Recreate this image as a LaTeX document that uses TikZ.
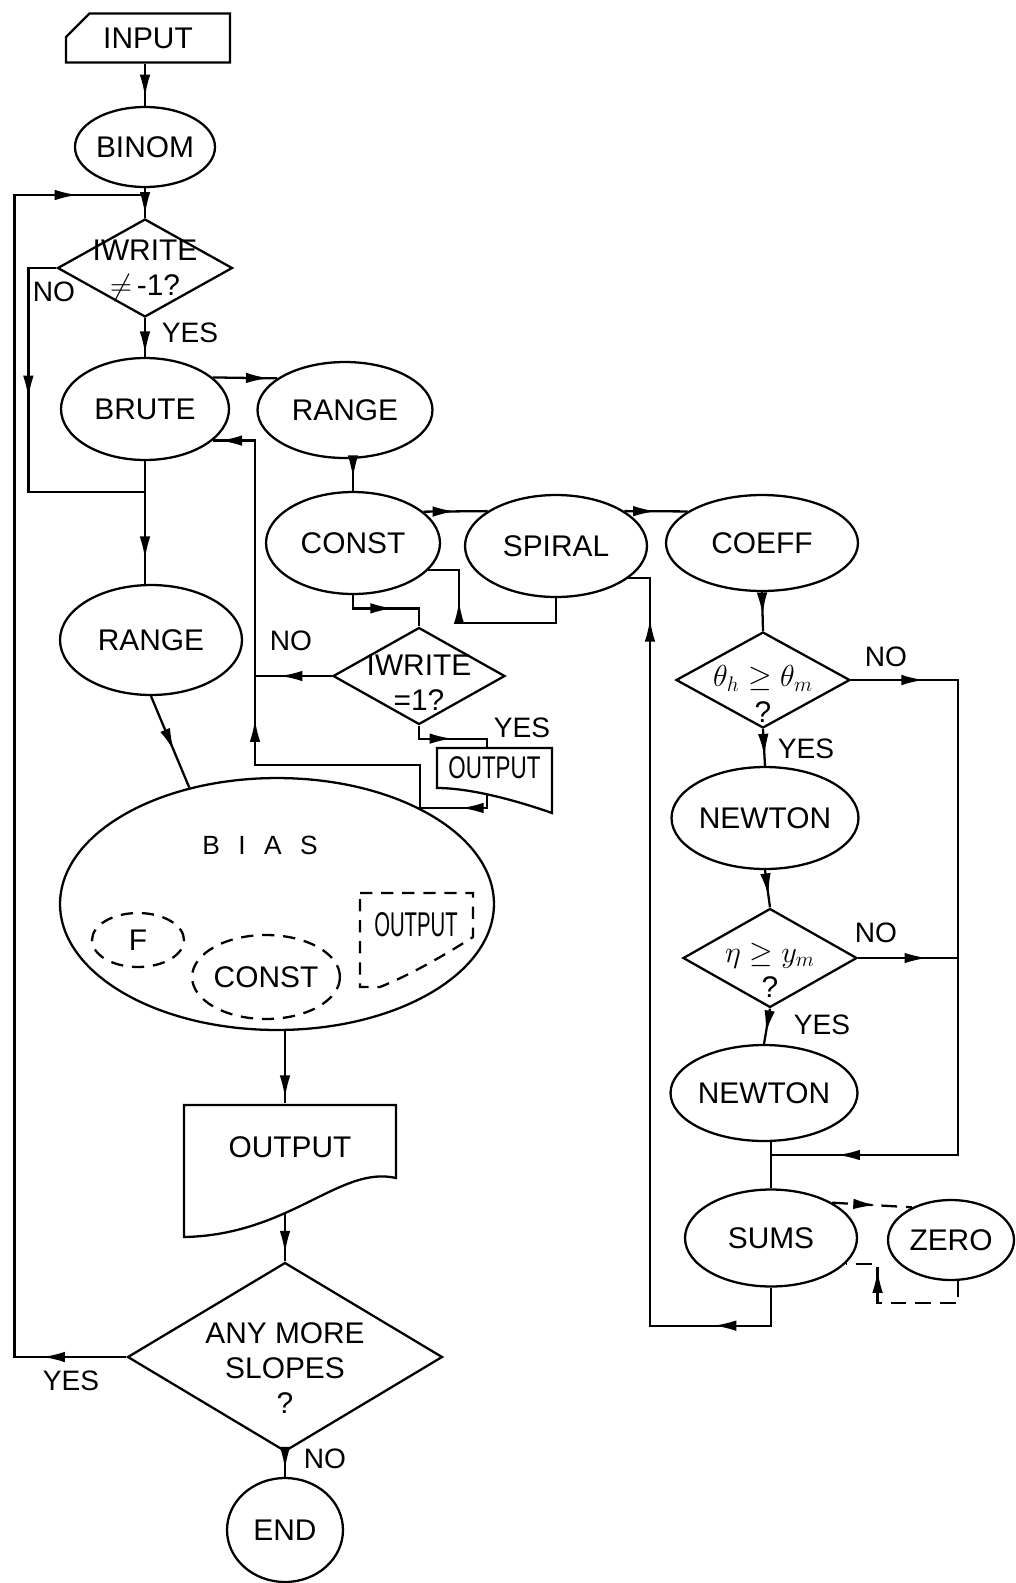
\documentclass[tikz,border=0pt]{standalone}
\usepackage{fontspec}
\setmainfont{Liberation Sans}
\usepackage{graphicx}
\usetikzlibrary{arrows.meta,calc,shapes.geometric,shapes.misc,decorations.markings}

\tikzset{
  arr/.style={postaction={decorate,decoration={markings,mark=at position #1 with {\arrow{Latex[length=13pt,width=6pt]}}}}},
  proc/.style={draw,ellipse,inner sep=0pt},
  ask/.style={draw,diamond,inner sep=0pt},
  sub/.style={draw,ellipse,inner sep=0pt,dash pattern=on 7pt off 5pt},
  callpath/.style={dash pattern=on 9pt off 5pt},
  docbox/.style={rectangle,inner sep=0pt},
  lbl/.style={font=\fontsize{17}{20}\selectfont},
  tag/.style={font=\fontsize{16}{19}\selectfont}
}

\begin{document}
\begin{tikzpicture}[x=0.02cm, y=-0.02cm, line width=1.3pt]
    \useasboundingbox (0,0) rectangle (1015,1583);
    % left column
    \node[draw, chamfered rectangle, chamfered rectangle corners=north west, chamfered rectangle xsep=0.28cm, chamfered rectangle ysep=0.26cm, minimum width=3.28cm, minimum height=0.98cm, inner sep=0pt, lbl] (input) at (148,38) {INPUT};
    \node[proc, lbl, minimum width=2.8cm, minimum height=1.6cm] (binom) at (145,147) {BINOM};
    \node[ask, minimum width=3.5cm, minimum height=1.96cm] (dw1) at (145,268) {};
    \node[lbl, align=center] (dw1t) at (145,271) {IWRITE\\$\neq$\,-1?};
    \node[proc, lbl, minimum width=3.36cm, minimum height=2.04cm] (brute) at (145,409) {BRUTE};
    \node[proc, lbl, minimum width=3.64cm, minimum height=2.2cm] (rangeB) at (151,640) {RANGE};
    \node[proc, minimum width=8.68cm, minimum height=5.04cm] (bias) at (277,904) {};
    \node[font=\fontsize{15}{18}\selectfont] (biast) at (260,845) {B\hspace{0.7em}I\hspace{0.7em}A\hspace{0.7em}S};
    \node[sub, lbl, minimum width=1.84cm, minimum height=1.08cm] (fsub) at (138,940) {F};
    \node[sub, lbl, minimum width=2.76cm, minimum height=1.68cm] (constB) at (266,977) {CONST};
    \node[docbox, minimum width=2.26cm, minimum height=0.9cm] (outD) at (416,925) {\fontsize{17}{20}\selectfont\scalebox{0.68}[1.15]{OUTPUT}};
    \draw[dash pattern=on 7pt off 5pt] (360,893) -- (473,893) -- (473,937) .. controls (445,955) and (410,975) .. (380,987) -- (360,987) -- cycle;
    \node[docbox, lbl, minimum width=4.24cm, minimum height=1.7cm] (outB) at (290,1147) {OUTPUT};
    \draw (184,1105) -- (396,1105) -- (396,1178) .. controls (340,1165) and (290,1235) .. (184,1237) -- cycle;
    \node[ask, minimum width=6.3cm, minimum height=3.78cm] (anyq) at (285,1357) {};
    \node[lbl, align=center] (anyqt) at (285,1368) {ANY MORE\\SLOPES\\?};
    \node[proc, lbl, minimum width=2.32cm, minimum height=2.08cm] (endn) at (285,1530) {END};
    % middle column
    \node[proc, lbl, minimum width=3.5cm, minimum height=1.92cm] (rangeA) at (345,410) {RANGE};
    \node[proc, lbl, minimum width=3.48cm, minimum height=2.04cm] (constA) at (353,543) {CONST};
    \node[proc, lbl, minimum width=3.64cm, minimum height=2.04cm] (spiral) at (556,546) {SPIRAL};
    \node[ask, minimum width=3.44cm, minimum height=1.94cm] (dw2) at (419,676) {};
    \node[lbl, align=center] (dw2t) at (419,683) {IWRITE\\=1?};
    \node[docbox, minimum width=2.3cm, minimum height=0.8cm] (outS) at (494.5,768) {\fontsize{17}{20}\selectfont\scalebox{0.75}[1.05]{OUTPUT}};
    \draw (437,748) -- (552,748) -- (552,813) .. controls (515,800) and (470,788) .. (437,788) -- cycle;
    % right column
    \node[proc, lbl, minimum width=3.84cm, minimum height=1.92cm] (coeff) at (762,543) {COEFF};
    \node[ask, minimum width=3.48cm, minimum height=1.92cm] (dth) at (763,680) {};
    \node[lbl, align=center] (dtht) at (763,694) {$\theta_h\geq\theta_m$\\?};
    \node[proc, lbl, minimum width=3.52cm, minimum height=2.04cm] (newtonA) at (765,818) {NEWTON};
    \node[ask, minimum width=3.48cm, minimum height=1.98cm] (deta) at (770,958) {};
    \node[lbl, align=center] (detat) at (770,970) {$\eta\geq y_m$\\?};
    \node[proc, lbl, minimum width=3.28cm, minimum height=1.92cm] (newtonB) at (764,1093) {NEWTON};
    \node[proc, lbl, minimum width=3.44cm, minimum height=1.94cm] (sums) at (771,1238) {SUMS};
    \node[proc, lbl, minimum width=2.52cm, minimum height=1.6cm] (zero) at (951,1240) {ZERO};
    % yes / no
    \node[tag] (no1) at (54,292) {NO};
    \node[tag] (yes1) at (190,333) {YES};
    \node[tag] (no2) at (291,641) {NO};
    \node[tag] (yes2) at (522,728) {YES};
    \node[tag] (no3) at (886,657) {NO};
    \node[tag] (yes3) at (806,749) {YES};
    \node[tag] (no4) at (876,933) {NO};
    \node[tag] (yes4) at (822,1025) {YES};
    \node[tag] (yes5) at (71,1381) {YES};
    \node[tag] (no5) at (325,1459) {NO};
    % junctions
    \coordinate (j1) at (145,195);
    \coordinate (j2) at (145,492);
    \coordinate (j3) at (255,676);
    \coordinate (j4) at (255,765);
    \coordinate (so) at (487,795);
    \coordinate (ob) at (anyq.north |- 0,1213);
    \coordinate (j5) at (sums.north |- 0,1155);
    % flow, left
    \draw[arr=0.8] (binom.north |- input.south) -- (binom.north);
    \draw[arr=0.9] (binom.south) -- (dw1.north);
    \draw[arr=0.06, arr=0.952] (anyq.west) -- ++(-112,0) |- (j1);
    \draw[arr=0.43] (dw1.west) -- ++(-28,0) |- (j2);
    \draw[arr=0.93] (dw1.south) -- (brute.north);
    \draw[arr=0.87] (brute.25) -- (rangeA.155);
    \draw[arr=0.8] (brute.south) -- (brute.south |- rangeB.north);
    \draw[arr=0.6] (rangeB.south) -- (bias.127);
    \draw[arr=0.93] (bias.south -| ob) -- (outB.north -| ob);
    \draw[arr=0.84] (ob) -- (anyq.north);
    \draw[arr=0.7] (anyq.south) -- (endn.north);
    % flow, middle
    \draw[arr=0.6] (rangeA.south -| constA.north) -- (constA.north);
    \draw[arr=0.5] (constA.24) -- (spiral.153);
    \draw[arr=0.7] (spiral.south) -- ++(0,25) -| ($(constA.-20)+(31,0)$) -- (constA.-20);
    \draw[arr=0.55] (constA.south) |- ($(dw2.north)+(0,-18)$) -- (dw2.north);
    \draw[arr=0.68] (dw2.west) -- (j3);
    \draw[arr=0.52] (dw2.south) -- ++(0,13) -| (outS.north -| so);
    \draw[arr=0.06, arr=0.51, arr=0.99] (so) |- ++(-67,13) |- (j4) |- (brute.-25);
    % flow, right
    \draw[arr=0.5] (spiral.27) -- (coeff.157);
    \draw[arr=0.6] (coeff.south) -- (dth.north);
    \draw[arr=0.095, arr=0.914] (dth.east) -- ++(107,0) |- (j5);
    \draw[arr=0.75] (dth.south) -- (newtonA.north);
    \draw[arr=0.7] (newtonA.south) -- (deta.north);
    \draw[arr=0.7] (deta.east) -- (deta.east -| 957,0);
    \draw[arr=0.7] (deta.south) -- (newtonB.north);
    \draw (newtonB.south -| sums.north) -- (sums.north);
    \draw[callpath, arr=0.55] (sums.30) -- (zero.140);
    \draw[callpath, arr=0.78] (zero.-80) -- ++(0,22) -| ($(sums.-19)+(32,0)$) -- (sums.-19);
    \draw[arr=0.103, arr=0.933] (sums.south) |- ++(-121,38) |- (spiral.-24);
\end{tikzpicture}
\end{document}
